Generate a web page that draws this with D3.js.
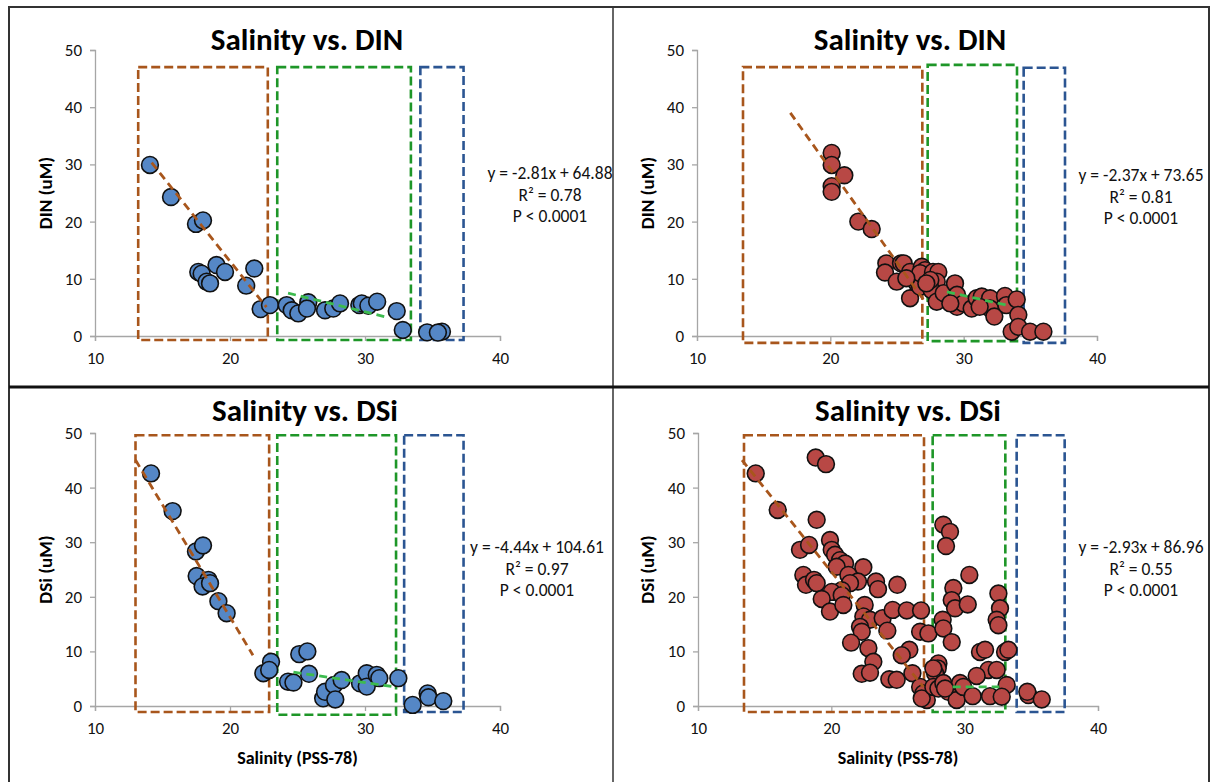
<!DOCTYPE html>
<html><head><meta charset="utf-8">
<script src="https://cdn.jsdelivr.net/npm/d3@7"></script>
<style>
html,body{margin:0;padding:0;background:#fff;}
svg{display:block;}
text{font-family:Carlito,Lato,"Open Sans",sans-serif;}
</style></head>
<body><svg id="c" width="1211" height="782"></svg>
<script>
// ---------------- DATA ----------------
const xTicks = [10, 20, 30, 40];
const yTicks = [0, 10, 20, 30, 40, 50];
const titles = ["Salinity vs. DIN", "Salinity vs. DIN", "Salinity vs. DSi", "Salinity vs. DSi"];
const yTitles = ["DIN (uM)", "DIN (uM)", "DSi (uM)", "DSi (uM)"];
const xTitle = "Salinity (PSS-78)";
const equations = [
  ["y = -2.81x + 64.88", "R² = 0.78", "P < 0.0001"],
  ["y = -2.37x + 73.65", "R² = 0.81", "P < 0.0001"],
  ["y = -4.44x + 104.61", "R² = 0.97", "P < 0.0001"],
  ["y = -2.93x + 86.96", "R² = 0.55", "P < 0.0001"]
];

// Panel A: DIN (blue)
const dinAX = [14.07,15.63,17.48,18.0,17.65,17.9,18.27,18.52,19.0,19.63,21.2,21.8,22.27,22.96,24.2,24.57,25.06,25.8,25.7,27.04,27.65,28.15,29.58,29.76,30.25,30.9,32.35,32.8,34.6,35.7,35.4];
const dinAY = [29.9,24.3,19.6,20.2,11.2,10.9,9.5,9.2,12.4,11.2,8.8,11.8,4.7,5.4,5.4,4.5,3.95,5.9,4.8,4.5,4.8,5.7,5.4,5.7,5.3,6.0,4.35,1.05,0.64,0.75,0.6];
// Panel B: DIN (red)
const dinBX = [20.1,20.1,21.05,20.1,20.1,22.1,23.1,24.2,24.1,25.3,25.5,24.98,25.98,25.98,26.5,26.73,26.86,27.1,26.73,27.7,28.1,27.98,27.6,27.98,28.5,29.35,29.5,29.5,29.98,30.6,30.98,31.36,31.98,31.98,32.3,33.1,33.2,33.98,34.1,33.6,34.1,34.98,35.98,25.7,27.5,29.0,31.2,27.2];
const dinBY = [32.0,29.9,28.1,26.2,25.2,20.0,18.7,12.7,11.1,12.7,12.7,9.5,11.2,6.6,9.2,8.6,12.1,11.5,11.0,11.2,11.2,9.5,8.0,6.0,7.5,9.2,7.2,5.1,5.7,4.8,6.6,6.9,6.6,4.8,3.4,7.0,5.4,6.4,3.7,0.75,1.6,0.75,0.75,10.1,9.8,5.7,5.1,9.2];
// Panel C: DSi (blue)
const dsiAX = [14.15,15.75,17.48,18.0,17.53,18.4,17.97,18.52,19.14,19.75,22.47,23.04,22.9,24.3,24.7,25.13,25.73,25.85,26.9,27.04,27.7,27.8,28.27,29.63,30.13,30.13,30.87,31.06,32.47,33.53,34.64,34.7,35.8];
const dsiAY = [42.6,35.7,28.3,29.4,23.8,23.1,21.9,22.5,19.2,17.0,6.0,8.1,6.6,4.45,4.3,9.5,10.0,5.9,1.4,2.6,3.85,1.2,4.75,4.15,6.0,3.55,5.7,5.1,5.1,0.2,2.3,1.6,0.9];
// Panel D: DSi (red)
const dsiBX = [14.33,15.98,18.83,19.6,18.9,17.65,18.33,19.9,20.03,20.28,20.65,21.03,20.4,22.4,17.9,18.1,18.7,18.9,21.28,22.0,21.4,20.78,20.03,20.78,19.28,19.9,20.9,23.35,23.5,24.95,22.5,22.4,22.9,22.15,22.28,23.85,24.2,24.6,25.66,26.73,26.66,27.28,21.48,22.78,25.85,25.28,23.15,22.28,22.9,24.35,24.9,26.08,28.4,28.9,28.6,29.15,29.03,29.28,30.23,30.35,28.35,28.4,29.03,32.53,32.65,32.4,32.53,31.15,31.53,33.03,33.28,28.03,27.98,27.78,31.78,32.4,30.9,33.15,26.66,26.9,27.16,26.78,27.65,28.03,28.4,28.78,29.4,29.65,29.9,30.6,31.9,32.78,34.78,34.7,35.78,27.65,28.53];
const dsiBY = [42.6,35.9,45.5,44.3,34.1,28.6,29.5,30.4,28.6,27.7,26.7,26.1,25.5,25.4,24.0,22.2,23.1,22.5,24.0,22.8,22.5,21.2,20.9,20.3,19.6,17.3,18.5,22.8,21.4,22.2,18.5,16.4,15.8,14.5,13.6,16.1,13.8,17.6,17.5,17.5,13.6,13.3,11.6,10.6,10.3,9.3,8.1,5.9,6.1,4.9,4.8,6.0,33.2,31.9,29.3,21.6,19.4,17.9,18.6,24.0,15.8,14.2,11.7,20.6,17.9,15.8,14.8,9.9,10.3,9.9,10.3,7.8,6.9,6.0,6.6,6.6,5.5,3.85,3.5,2.3,1.1,1.4,3.5,3.2,4.2,2.6,1.1,4.2,3.5,1.8,1.8,1.7,2.0,2.6,1.2,6.9,3.2];

// Dashed region boxes [xMin, xMax, yMin, yMax] in data units
const boxesA = [[13.2,22.8,-0.7,47.0],[23.5,33.4,-0.7,47.0],[34.1,37.3,-0.7,47.0]];
const boxesB = [[13.45,26.9,-1.2,47.0],[27.3,34.0,-0.9,47.4],[34.5,37.6,-1.2,46.9]];
const boxesC = [[13.0,22.9,-1.1,49.6],[23.5,32.3,-1.6,49.6],[32.9,37.3,-1.1,49.6]];
const boxesD = [[13.45,26.95,-1.1,49.6],[27.6,33.05,-1.1,49.6],[33.9,37.5,-1.1,49.6]];
// Trend segments [x1, y1, x2, y2]
const trendsA = [[14.2,30.3,22.7,5.05],[24.3,7.5,31.6,3.3]];
const trendsB = [[17.0,39.0,27.0,6.3],[28.75,7.7,33.25,5.4]];
const trendsC = [[13.0,45.05,21.7,9.3],[24.7,6.2,32.2,3.5]];
const trendsD = [[13.3,45.05,26.9,3.5],[29.1,3.5,32.6,3.5]];

// ---------------- LAYOUT / STYLE ----------------
const boxColors = ["#A8561C", "#1E9628", "#2B5592"];
const trendColors = ["#A8561C", "#3DBB4F"];
const panels = [
  {xs:[95,500], ys:[336,50], X:dinAX, Y:dinAY, boxes:boxesA, trends:trendsA, fill:"#5587C6", cx:307, ty:42, eqx:550, eqy:175, ylx:47, xTitle:false},
  {xs:[697,1097], ys:[336,50], X:dinBX, Y:dinBY, boxes:boxesB, trends:trendsB, fill:"#B84845", cx:910, ty:42, eqx:1141, eqy:177, ylx:649, xTitle:false},
  {xs:[95,500], ys:[706,433], X:dsiAX, Y:dsiAY, boxes:boxesC, trends:trendsC, fill:"#5587C6", cx:305, ty:413, eqx:537, eqy:549, ylx:47, xTitle:true},
  {xs:[698,1098], ys:[706,433], X:dsiBX, Y:dsiBY, boxes:boxesD, trends:trendsD, fill:"#B84845", cx:908, ty:413, eqx:1141, eqy:549, ylx:649, xTitle:true}
];

const svg = d3.select("#c");

// frame
svg.append("rect").attr("x",9).attr("y",7).attr("width",1200).attr("height",800)
  .attr("fill","none").attr("stroke","#333").attr("stroke-width",2);
svg.append("line").attr("x1",613).attr("x2",613).attr("y1",7).attr("y2",782)
  .attr("stroke","#333").attr("stroke-width",1.5);
svg.append("line").attr("x1",9).attr("x2",1209).attr("y1",387).attr("y2",387)
  .attr("stroke","#111").attr("stroke-width",3);

panels.forEach((p, i) => {
  const x = d3.scaleLinear().domain([10,40]).range(p.xs);
  const y = d3.scaleLinear().domain([0,50]).range(p.ys);
  const g = svg.append("g");

  // y axis
  const ya = g.append("g").attr("transform",`translate(${p.xs[0]},0)`)
    .call(d3.axisLeft(y).tickValues(yTicks).tickSize(5).tickPadding(8));
  // x axis
  const xa = g.append("g").attr("transform",`translate(0,${p.ys[0]})`)
    .call(d3.axisBottom(x).tickValues(xTicks).tickSize(5).tickPadding(11));
  [ya, xa].forEach(a => {
    a.select(".domain").attr("stroke","#a6a6a6").attr("stroke-width",1.3);
    a.selectAll(".tick line").attr("stroke","#a6a6a6").attr("stroke-width",1.3);
    a.selectAll(".tick text").attr("fill","#111").style("font-size","17px")
      .style("font-family","Carlito,Lato,'Open Sans',sans-serif");
  });

  // boxes
  p.boxes.forEach((b, k) => {
    g.append("rect")
      .attr("x", x(b[0])).attr("y", y(b[3]))
      .attr("width", x(b[1]) - x(b[0])).attr("height", y(b[2]) - y(b[3]))
      .attr("fill","none").attr("stroke", boxColors[k]).attr("stroke-width",2.6)
      .attr("stroke-dasharray","9,4");
  });

  // points
  const pts = p.X.map((v, k) => [v, p.Y[k]]);
  g.append("g").selectAll("circle").data(pts).join("circle")
    .attr("cx", d => x(d[0])).attr("cy", d => y(d[1])).attr("r", 8.4)
    .attr("fill", p.fill).attr("stroke","#111").attr("stroke-width",1.6);

  // trend lines
  p.trends.forEach((t, k) => {
    g.append("line").attr("x1",x(t[0])).attr("y1",y(t[1])).attr("x2",x(t[2])).attr("y2",y(t[3]))
      .attr("stroke", trendColors[k]).attr("stroke-width",2.8).attr("stroke-dasharray","8,5");
  });

  // title
  g.append("text").attr("x", p.cx).attr("y", p.ty).attr("text-anchor","middle")
    .attr("dominant-baseline","middle")
    .style("font-size","31px").style("font-weight","900").text(titles[i]);

  // y title
  const ym = (p.ys[0] + p.ys[1]) / 2;
  g.append("text").attr("transform",`translate(${p.ylx},${ym}) rotate(-90)`)
    .attr("text-anchor","middle").attr("dominant-baseline","middle")
    .style("font-size","19px").style("font-weight","bold").text(yTitles[i]);

  // x title
  if (p.xTitle) {
    g.append("text").attr("x", (p.xs[0]+p.xs[1])/2).attr("y", 760)
      .attr("text-anchor","middle").attr("dominant-baseline","middle")
      .style("font-size","18px").style("font-weight","bold").text(xTitle);
  }

  // equation
  equations[i].forEach((s, k) => {
    g.append("text").attr("x", p.eqx).attr("y", p.eqy + k*21.5)
      .attr("text-anchor","middle").attr("dominant-baseline","middle")
      .style("font-size","17.5px").attr("fill","#111").text(s);
  });
});
</script></body></html>
